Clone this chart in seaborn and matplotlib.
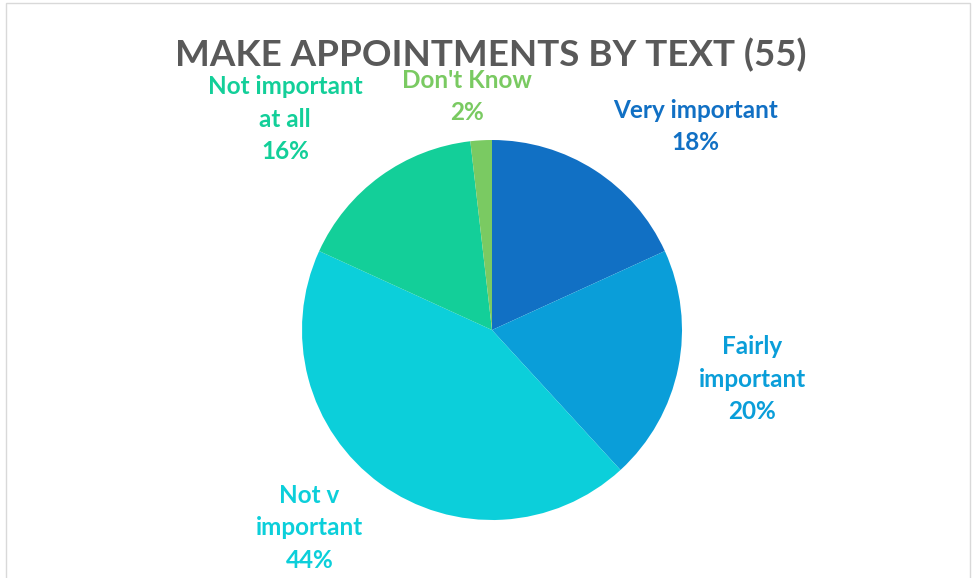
import matplotlib
matplotlib.use("Agg")
import matplotlib.pyplot as plt
from matplotlib.patches import Rectangle
import seaborn as sns

# Survey responses (n = 55)
categories = ["Very important", "Fairly\nimportant", "Not v\nimportant",
              "Not important\nat all", "Don't Know"]
counts = [10, 11, 24, 9, 1]
colors = ["#1170C4", "#0A9ED9", "#0CCFDA", "#13CF99", "#7ACA62"]

# label centres, in pie radius units
label_pos = [(1.07, 1.07), (1.37, -0.26), (-0.96, -1.04), (-1.09, 1.11), (-0.13, 1.23)]

sns.set_theme(style="white")
plt.rcParams["font.family"] = ["Lato", "DejaVu Sans"]

fig = plt.figure(figsize=(9.72, 5.78), dpi=100)
ax = fig.add_axes([0, 0, 1, 1])

palette = sns.color_palette(colors)
ax.pie(counts, colors=palette, startangle=90, counterclock=False,
       radius=1, center=(0, 0), wedgeprops=dict(linewidth=0))

total = sum(counts)
for cat, n, c, (x, y) in zip(categories, counts, colors, label_pos):
    ax.text(x, y, f"{cat}\n{round(100 * n / total)}%", color=c, ha="center", va="center",
            fontsize=17.5, fontweight="bold", linespacing=1.5)

ax.set_xlim(-492 / 190, 480 / 190)
ax.set_ylim(-248 / 190, 330 / 190)
ax.set_aspect("auto")
ax.axis("off")

fig.text(0.505, 1 - 55 / 578, "MAKE APPOINTMENTS BY TEXT (55)", ha="center", va="center",
         fontsize=26.5, fontweight="bold", color="#595959")

# chart area frame
fig.patches.append(Rectangle((6 / 972, -0.01), 964 / 972, 1 - 3 / 578 + 0.01,
                             transform=fig.transFigure, fill=False,
                             edgecolor="#D9D9D9", linewidth=1))

fig.savefig("out.png", dpi=100, facecolor="white")
